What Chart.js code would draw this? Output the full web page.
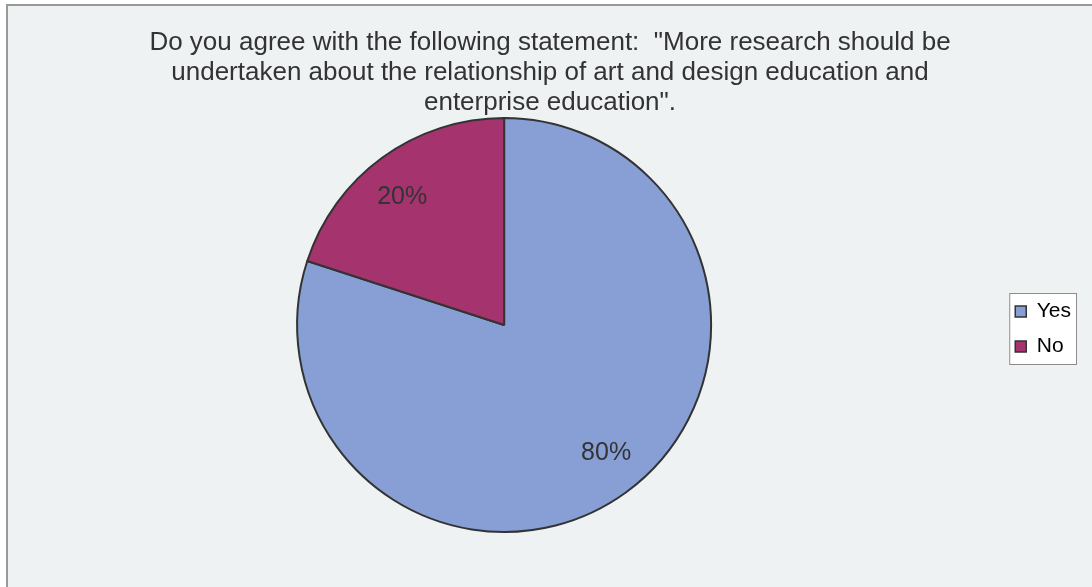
<!DOCTYPE html>
<html>
<head>
<meta charset="utf-8">
<script src="https://cdn.jsdelivr.net/npm/chart.js@4/dist/chart.umd.min.js"></script>
<style>
  html, body { margin: 0; padding: 0; background: #ffffff; }
  body { width: 1092px; height: 587px; position: relative; overflow: hidden; }
  #frame {
    position: absolute; left: 6px; top: 4px; width: 1200px; height: 700px;
    background: #eef2f3; border-top: 2px solid #999; border-left: 2px solid #999;
  }
  #chart { position: absolute; left: 0; top: 0; }
</style>
</head>
<body>
<div id="frame"></div>
<canvas id="chart" width="1092" height="587"></canvas>
<script>
const titleLines = [
    'Do you agree with the following statement:  "More research should be',
    'undertaken about the relationship of art and design education and',
    'enterprise education".'
];
const answers = ['Yes', 'No'];
const shares = [80, 20];
const sliceColors = ['#879fd4', '#a5336e'];

const FONT = '"Liberation Sans", Arial, sans-serif';

// percentage text placed near each slice's middle angle
const sliceLabels = {
    id: 'sliceLabels',
    afterDatasetsDraw(chart) {
        const ctx = chart.ctx;
        const meta = chart.getDatasetMeta(0);
        const values = chart.data.datasets[0].data;
        const total = values.reduce((a, b) => a + b, 0);
        ctx.save();
        ctx.font = '25px ' + FONT;
        ctx.fillStyle = '#333';
        ctx.textAlign = 'center';
        ctx.textBaseline = 'middle';
        meta.data.forEach((arc, i) => {
            const p = arc.getProps(['x', 'y', 'startAngle', 'endAngle', 'outerRadius'], true);
            const mid = (p.startAngle + p.endAngle) / 2 - 0.045;
            const r = p.outerRadius * 0.79;
            const pct = Math.round(values[i] / total * 100) + '%';
            ctx.fillText(pct, p.x + Math.cos(mid) * r, p.y + Math.sin(mid) * r);
        });
        ctx.restore();
    }
};

// small shifts: title a bit right of the plot centre, legend a bit lower
const nudge = {
    id: 'nudge',
    afterLayout(chart) {
        chart.titleBlock.left += 6;
        chart.titleBlock.right += 6;
        chart.legend.top += 4;
        chart.legend.bottom += 4;
    }
};

// white box with grey outline behind the legend entries
const legendFrame = {
    id: 'legendFrame',
    beforeDraw(chart) {
        const boxes = chart.legend.legendHitBoxes;
        if (!boxes || !boxes.length) return;
        const left = Math.min(...boxes.map(b => b.left)) - 6;
        const right = Math.max(...boxes.map(b => b.left + b.width)) + 5;
        const top = Math.min(...boxes.map(b => b.top)) - 8;
        const bottom = Math.max(...boxes.map(b => b.top + b.height)) + 7;
        const ctx = chart.ctx;
        ctx.save();
        ctx.fillStyle = '#ffffff';
        ctx.strokeStyle = '#8c8c8c';
        ctx.lineWidth = 1;
        ctx.fillRect(left, top, right - left, bottom - top);
        ctx.strokeRect(left + 0.5, top + 0.5, right - left, bottom - top);
        ctx.restore();
    }
};

new Chart(document.getElementById('chart'), {
    type: 'pie',
    data: {
        labels: answers,
        datasets: [{
            data: shares,
            backgroundColor: sliceColors,
            borderColor: '#333',
            borderWidth: 2
        }]
    },
    options: {
        responsive: false,
        animation: false,
        layout: { padding: { left: 7, right: 11, top: 27, bottom: 54 } },
        plugins: {
            title: {
                display: true,
                text: titleLines,
                color: '#333',
                font: { family: FONT, size: 26, weight: 'normal', lineHeight: '30px' },
                padding: { top: 1, bottom: -1 }
            },
            legend: {
                position: 'right',
                fullSize: false,
                labels: {
                    boxWidth: 11,
                    boxHeight: 11,
                    padding: 14,
                    color: '#222',
                    font: { family: FONT, size: 21 },
                    generateLabels(chart) {
                        const ds = chart.data.datasets[0];
                        return chart.data.labels.map((label, i) => ({
                            text: label,
                            fillStyle: ds.backgroundColor[i],
                            strokeStyle: '#333',
                            lineWidth: 1.5,
                            index: i
                        }));
                    }
                }
            },
            tooltip: { enabled: false }
        }
    },
    plugins: [nudge, legendFrame, sliceLabels]
});
</script>
</body>
</html>
